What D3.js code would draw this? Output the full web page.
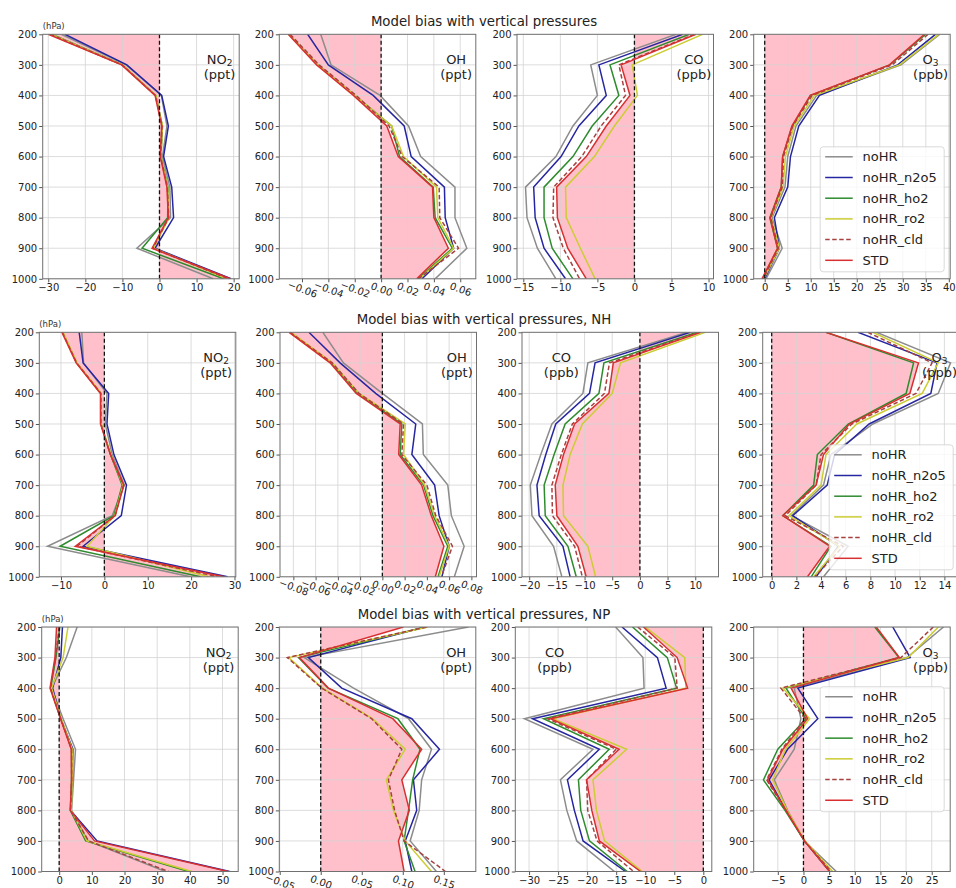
<!DOCTYPE html>
<html>
<head>
<meta charset="utf-8">
<script src="https://cdn.jsdelivr.net/npm/d3@7"></script>
<style>
body { margin: 0; background: #fff; }
text { font-family: "DejaVu Sans", sans-serif; }
</style>
</head>
<body>
<script>
// pressure levels (hPa), shared by every panel
var levels = [200, 300, 400, 500, 600, 700, 800, 900, 1000];
var seriesNames = ['noHR', 'noHR_n2o5', 'noHR_ho2', 'noHR_ro2', 'noHR_cld', 'STD'];
var seriesColors = ['#8c8c8c', '#2626a0', '#2e8b2e', '#cccc33', '#a84040', '#d83030'];
var rowTitles = ['Model bias with vertical pressures',
                 'Model bias with vertical pressures, NH',
                 'Model bias with vertical pressures, NP'];

// each panel: one list per series, in seriesNames order, values at levels
var no2All = [
    [-26.5, -9.0, 0.5, 2.0, 0.8, 2.8, 3.0, -6.1, 14.5],
    [-25.5, -8.8, 0.6, 2.4, 1.1, 3.3, 3.8, -1.2, 19.3],
    [-29.0, -10.0, -1.0, 0.8, 0.4, 2.3, 2.2, -4.7, 17.3],
    [-29.2, -10.0, -1.0, 0.8, 0.4, 2.2, 2.6, -1.6, 18.2],
    [-29.5, -10.1, -1.1, 0.7, 0.3, 2.1, 2.5, -1.8, 18.6],
    [-30.0, -10.2, -1.2, 0.6, 0.2, 2.0, 2.4, -2.0, 19.1]
];
var ohAll = [
    [-0.0458, -0.038, -0.0008, 0.0208, 0.030, 0.056, 0.056, 0.065, 0.041],
    [-0.0557, -0.040, -0.006, 0.0175, 0.0228, 0.048, 0.0486, 0.055, 0.031],
    [-0.070, -0.048, -0.020, 0.008, 0.014, 0.0395, 0.041, 0.054, 0.028],
    [-0.070, -0.048, -0.020, 0.008, 0.017, 0.042, 0.043, 0.055, 0.029],
    [-0.069, -0.047, -0.019, 0.006, 0.016, 0.044, 0.0445, 0.0587, 0.0285],
    [-0.0704, -0.0489, -0.021, 0.0043, 0.013, 0.039, 0.040, 0.051, 0.027]
];
var coAll = [
    [5.6, -5.9, -5.0, -8.3, -10.6, -14.7, -14.5, -13.1, -10.6],
    [6.5, -4.8, -3.8, -7.5, -9.9, -13.6, -13.4, -12.2, -9.3],
    [7.4, -3.3, -2.1, -5.7, -8.3, -12.2, -12.2, -11.1, -8.3],
    [9.2, -0.3, 0.4, -2.7, -5.4, -9.3, -9.2, -7.3, -5.3],
    [8.1, -2.1, -1.2, -4.5, -7.1, -10.9, -11.0, -9.6, -7.4],
    [8.3, -1.8, -0.6, -3.8, -6.5, -10.5, -10.4, -9.0, -6.5]
];
var o3All = [
    [38.0, 29.6, 11.3, 6.8, 5.0, 4.4, 1.6, 3.8, 0.3],
    [37.1, 28.9, 11.9, 7.4, 5.6, 5.0, 2.1, 3.2, 0.0],
    [35.0, 27.2, 10.0, 6.0, 3.9, 3.6, 1.1, 2.8, -0.4],
    [37.8, 29.3, 10.8, 6.4, 4.5, 4.0, 1.4, 3.2, -0.2],
    [35.5, 27.7, 10.3, 6.1, 4.1, 3.8, 1.3, 3.0, -0.3],
    [34.7, 27.1, 9.9, 5.9, 3.9, 3.6, 1.2, 2.8, -0.6]
];
var no2NH = [
    [-5.2, -4.8, 0.6, 0.2, 1.8, 4.6, 1.8, -13.1, 19.9],
    [-5.8, -4.9, 1.0, 0.6, 2.2, 5.1, 3.9, -4.9, 28.4],
    [-9.6, -6.4, -0.8, -0.8, 1.4, 4.1, 2.2, -10.2, 22.2],
    [-9.5, -6.3, -0.7, -0.7, 1.5, 4.3, 2.4, -4.0, 24.2],
    [-9.7, -6.4, -0.8, -0.8, 1.4, 4.4, 2.5, -6.3, 26.1],
    [-9.8, -6.5, -0.9, -0.9, 1.4, 4.5, 2.5, -6.7, 27.6]
];
var ohNH = [
    [-0.0535, -0.035, 0.0, 0.036, 0.0368, 0.0588, 0.062, 0.0735, 0.0647],
    [-0.066, -0.038, -0.006, 0.030, 0.0265, 0.047, 0.051, 0.060, 0.0535],
    [-0.083, -0.046, -0.022, 0.0175, 0.016, 0.037, 0.0455, 0.0588, 0.050],
    [-0.082, -0.045, -0.021, 0.0206, 0.019, 0.038, 0.047, 0.060, 0.051],
    [-0.083, -0.045, -0.021, 0.019, 0.0175, 0.040, 0.048, 0.063, 0.053],
    [-0.0838, -0.047, -0.0235, 0.016, 0.0147, 0.0353, 0.044, 0.0553, 0.0476]
];
var coNH = [
    [8.5, -9.4, -10.3, -15.9, -17.9, -19.8, -19.5, -15.6, -14.1],
    [9.1, -8.1, -9.1, -15.2, -17.0, -18.6, -18.2, -13.9, -12.6],
    [10.3, -6.5, -7.4, -13.5, -15.5, -17.3, -17.1, -13.0, -11.5],
    [11.8, -3.5, -5.0, -10.4, -12.6, -13.9, -13.8, -9.4, -8.0],
    [10.8, -5.5, -6.4, -12.2, -14.2, -15.9, -15.8, -11.8, -10.4],
    [11.0, -4.8, -5.6, -11.8, -13.8, -15.3, -15.0, -11.2, -9.7]
];
var o3NH = [
    [8.5, 14.5, 13.5, 8.2, 4.8, 4.2, 1.6, 6.2, 4.2],
    [7.0, 13.4, 12.9, 7.9, 5.1, 4.5, 1.7, 5.4, 3.6],
    [4.4, 11.5, 10.9, 6.2, 3.7, 3.4, 0.9, 4.8, 3.2],
    [8.2, 13.5, 12.2, 6.9, 4.4, 4.0, 1.4, 5.5, 3.4],
    [7.8, 13.0, 11.7, 6.5, 4.0, 3.6, 1.1, 5.8, 3.5],
    [4.4, 11.9, 11.2, 6.3, 4.2, 3.6, 0.9, 4.7, 2.9]
];
var no2NP = [
    [5.5, 2.2, -2.3, 1.2, 5.0, 4.4, 3.8, 8.8, 32.5],
    [1.0, 0.5, -2.0, 0.5, 4.2, 4.0, 3.5, 11.6, 52.2],
    [0.2, -1.0, -2.6, 0.5, 3.8, 3.8, 3.4, 8.1, 39.6],
    [2.7, 1.2, -2.3, 0.6, 4.0, 4.0, 3.7, 8.5, 40.6],
    [0.0, -1.1, -2.7, 0.5, 3.8, 3.8, 3.5, 9.0, 33.5],
    [-0.8, -1.3, -2.8, 0.4, 3.7, 3.8, 3.4, 10.8, 51.7]
];
var ohNP = [
    [0.180, -0.020, 0.040, 0.107, 0.135, 0.123, 0.120, 0.109, 0.141],
    [0.127, -0.015, 0.0256, 0.111, 0.1447, 0.113, 0.117, 0.103, 0.111],
    [0.128, -0.027, 0.009, 0.094, 0.121, 0.112, 0.107, 0.1016, 0.115],
    [0.131, -0.039, 0.002, 0.063, 0.103, 0.080, 0.0886, 0.103, 0.135],
    [0.129, -0.0407, 0.0012, 0.062, 0.0988, 0.0825, 0.090, 0.1016, 0.152],
    [0.1008, -0.026, 0.0093, 0.0878, 0.123, 0.0988, 0.108, 0.0947, 0.1016]
];
var coNP = [
    [-15.1, -10.4, -10.2, -30.8, -19.0, -24.6, -23.5, -21.8, -15.3],
    [-14.0, -7.9, -6.4, -29.4, -17.9, -23.4, -22.2, -20.7, -13.4],
    [-12.2, -6.2, -4.6, -27.5, -16.2, -21.5, -21.1, -19.6, -13.1],
    [-10.0, -3.2, -3.0, -25.9, -13.2, -19.0, -18.4, -17.0, -10.5],
    [-11.3, -4.9, -4.5, -26.8, -15.0, -20.1, -19.9, -18.3, -12.0],
    [-10.3, -4.5, -2.7, -26.3, -14.5, -20.1, -19.2, -17.9, -10.8]
];
var o3NP = [
    [27.3, 20.2, -1.8, -0.5, -1.8, -5.7, -3.1, 0.2, 6.4],
    [17.4, 20.8, -1.1, 2.8, -3.1, -6.7, -3.4, 0.2, 5.1],
    [13.9, 18.6, -3.4, 0.5, -5.0, -7.8, -3.6, 0.2, 5.2],
    [26.3, 20.4, -4.0, 1.2, -3.5, -6.0, -3.2, 0.3, 5.7],
    [25.3, 19.0, -4.4, 0.3, -4.2, -7.2, -3.4, 0.2, 5.4],
    [14.2, 18.7, -2.4, 0.8, -4.0, -7.0, -3.4, 0.2, 5.1]
];

// x tick values per panel
var ticksNo2All = [-30, -20, -10, 0, 10, 20];
var ticksOhAll = [-0.06, -0.04, -0.02, 0, 0.02, 0.04, 0.06];
var ticksCoAll = [-15, -10, -5, 0, 5, 10];
var ticksO3All = [0, 5, 10, 15, 20, 25, 30, 35, 40];
var ticksNo2NH = [-10, 0, 10, 20, 30];
var ticksOhNH = [-0.08, -0.06, -0.04, -0.02, 0, 0.02, 0.04, 0.06, 0.08];
var ticksCoNH = [-20, -15, -10, -5, 0, 5, 10];
var ticksO3NH = [0, 2, 4, 6, 8, 10, 12, 14];
var ticksNo2NP = [0, 10, 20, 30, 40, 50];
var ticksOhNP = [-0.05, 0, 0.05, 0.1, 0.15];
var ticksCoNP = [-30, -25, -20, -15, -10, -5, 0];
var ticksO3NP = [-5, 0, 5, 10, 15, 20, 25];

var rowTop = [34.3, 332.3, 627];
var plotH = 244.5;
var plotW = 196.5;
var colLeft = [[42.7, 279.3, 517, 753.7], [39.3, 280, 522, 762.7], [41.7, 279.3, 515.3, 753.7]];

var fmtInt = d3.format('d'), fmtOh = d3.format('.2f');

var panels = [
    {row: 0, col: 0, data: no2All, dom: [-31.5, 21.5], ticks: ticksNo2All, name: 'NO', sub: '2', unit: '(ppt)', lx: 0.9},
    {row: 0, col: 1, data: ohAll, dom: [-0.0772, 0.0718], ticks: ticksOhAll, name: 'OH', sub: '', unit: '(ppt)', lx: 0.9, rot: true},
    {row: 0, col: 2, data: coAll, dom: [-15.85, 10.67], ticks: ticksCoAll, name: 'CO', sub: '', unit: '(ppb)', lx: 0.9},
    {row: 0, col: 3, data: o3All, dom: [-2.39, 40.3], ticks: ticksO3All, name: 'O', sub: '3', unit: '(ppb)', lx: 0.9, legend: 'lower'},
    {row: 1, col: 0, data: no2NH, dom: [-15, 30.3], ticks: ticksNo2NH, name: 'NO', sub: '2', unit: '(ppt)', lx: 0.9},
    {row: 1, col: 1, data: ohNH, dom: [-0.092, 0.0846], ticks: ticksOhNH, name: 'OH', sub: '', unit: '(ppt)', lx: 0.9, rot: true},
    {row: 1, col: 2, data: coNH, dom: [-21.3, 14.2], ticks: ticksCoNH, name: 'CO', sub: '', unit: '(ppb)', lx: 0.2},
    {row: 1, col: 3, data: o3NH, dom: [-0.73, 15.2], ticks: ticksO3NH, name: 'O', sub: '3', unit: '(ppb)', lx: 0.9, legend: 'lower'},
    {row: 2, col: 0, data: no2NP, dom: [-5.35, 54.8], ticks: ticksNo2NP, name: 'NO', sub: '2', unit: '(ppt)', lx: 0.9},
    {row: 2, col: 1, data: ohNP, dom: [-0.0505, 0.189], ticks: ticksOhNP, name: 'OH', sub: '', unit: '(ppt)', lx: 0.9, rot: true},
    {row: 2, col: 2, data: coNP, dom: [-32.37, 1.46], ticks: ticksCoNP, name: 'CO', sub: '', unit: '(ppb)', lx: 0.2},
    {row: 2, col: 3, data: o3NP, dom: [-9.7, 28.6], ticks: ticksO3NP, name: 'O', sub: '3', unit: '(ppb)', lx: 0.9, legend: 'center'}
];

var svg = d3.select('body').append('svg')
    .attr('width', 956)
    .attr('height', 888);

// row titles
rowTitles.forEach(function (t, r) {
    svg.append('text')
        .attr('x', 484).attr('y', rowTop[r] - 8.5)
        .attr('text-anchor', 'middle')
        .attr('font-size', '13.3px').attr('fill', '#222')
        .text(t);
});

panels.forEach(function (p, i) {
    var left = colLeft[p.row][p.col], top = rowTop[p.row];
    var x = d3.scaleLinear().domain(p.dom).range([0, plotW]);
    var y = d3.scaleLinear().domain([200, 1000]).range([0, plotH]);
    var g = svg.append('g').attr('transform', 'translate(' + left + ',' + top + ')');

    g.append('clipPath').attr('id', 'clip' + i)
        .append('rect').attr('width', plotW).attr('height', plotH);
    var plot = g.append('g').attr('clip-path', 'url(#clip' + i + ')');

    // pink band between STD and zero
    var std = p.data[5];
    plot.append('path')
        .datum(levels)
        .attr('d', d3.area()
            .y(function (d) { return y(d); })
            .x0(x(0))
            .x1(function (d, j) { return x(std[j]); }))
        .attr('fill', '#ffc0cb');

    // grid
    plot.selectAll('.gx').data(p.ticks).enter().append('line')
        .attr('x1', function (d) { return x(d); }).attr('x2', function (d) { return x(d); })
        .attr('y1', 0).attr('y2', plotH)
        .attr('stroke', '#d3d3d3').attr('stroke-width', 0.8);
    plot.selectAll('.gy').data(levels).enter().append('line')
        .attr('y1', function (d) { return y(d); }).attr('y2', function (d) { return y(d); })
        .attr('x1', 0).attr('x2', plotW)
        .attr('stroke', '#d3d3d3').attr('stroke-width', 0.8);

    // series lines
    var line = d3.line()
        .x(function (d) { return x(d); })
        .y(function (d, j) { return y(levels[j]); });
    plot.selectAll('.series').data(p.data).enter().append('path')
        .attr('d', line)
        .attr('fill', 'none')
        .attr('stroke', function (d, k) { return seriesColors[k]; })
        .attr('stroke-width', 1.5)
        .attr('stroke-dasharray', function (d, k) { return k === 4 ? '4.5,2.5' : null; });

    // zero line
    plot.append('line')
        .attr('x1', x(0)).attr('x2', x(0)).attr('y1', 0).attr('y2', plotH)
        .attr('stroke', '#111').attr('stroke-width', 1.3).attr('stroke-dasharray', '4,2.5');

    // axes
    var xAxis = g.append('g').attr('transform', 'translate(0,' + plotH + ')')
        .call(d3.axisBottom(x).tickValues(p.ticks).tickSize(3.5).tickPadding(2)
            .tickFormat(p.rot ? fmtOh : fmtInt));
    var yAxis = g.append('g')
        .call(d3.axisLeft(y).tickValues(levels).tickSize(3.5).tickPadding(2).tickFormat(fmtInt));
    [xAxis, yAxis].forEach(function (a) {
        a.select('.domain').remove();
        a.selectAll('line').attr('stroke', '#555');
        a.selectAll('text').attr('font-size', '10px').attr('fill', '#222')
            .style('font-family', '"DejaVu Sans", sans-serif');
    });
    if (p.rot) {
        xAxis.selectAll('text')
            .attr('y', 0).attr('dy', '0.35em')
            .attr('transform', 'translate(0,10.5) rotate(20)');
    }

    // frame
    g.append('rect').attr('width', plotW).attr('height', plotH)
        .attr('fill', 'none').attr('stroke', '#707070').attr('stroke-width', 1);

    if (p.col === 0) {
        g.append('text').attr('x', 0).attr('y', -5)
            .attr('font-size', '8.5px').attr('fill', '#333')
            .text('(hPa)');
    }

    // species label
    var lab = g.append('text')
        .attr('x', p.lx * plotW).attr('y', 29.5)
        .attr('text-anchor', 'middle')
        .attr('font-size', '13px').attr('fill', '#222');
    lab.append('tspan').text(p.name);
    if (p.sub) lab.append('tspan').attr('font-size', '9px').attr('dy', 2.5).text(p.sub);
    g.append('text')
        .attr('x', p.lx * plotW).attr('y', 45)
        .attr('text-anchor', 'middle')
        .attr('font-size', '13px').attr('fill', '#222')
        .text(p.unit);

    // legend
    if (p.legend) {
        var lw = 124, lh = 125;
        var lx = plotW - 6 - lw;
        var ly = p.legend === 'lower' ? plotH - 7 - lh : (plotH - lh) / 2;
        var leg = g.append('g').attr('transform', 'translate(' + lx + ',' + ly + ')');
        leg.append('rect').attr('width', lw).attr('height', lh).attr('rx', 3)
            .attr('fill', 'rgba(255,255,255,0.8)').attr('stroke', '#d0d0d0').attr('stroke-width', 0.8);
        var items = leg.selectAll('.item').data(seriesNames).enter().append('g')
            .attr('transform', function (d, k) { return 'translate(0,' + (10 + k * 20.7) + ')'; });
        items.append('line').attr('x1', 5).attr('x2', 32.5)
            .attr('stroke', function (d, k) { return seriesColors[k]; })
            .attr('stroke-width', 1.5)
            .attr('stroke-dasharray', function (d, k) { return k === 4 ? '4.5,2.5' : null; });
        items.append('text').attr('x', 42.4).attr('dy', '0.35em')
            .attr('font-size', '13px').attr('fill', '#222')
            .text(function (d) { return d; });
    }
});
</script>
</body>
</html>
